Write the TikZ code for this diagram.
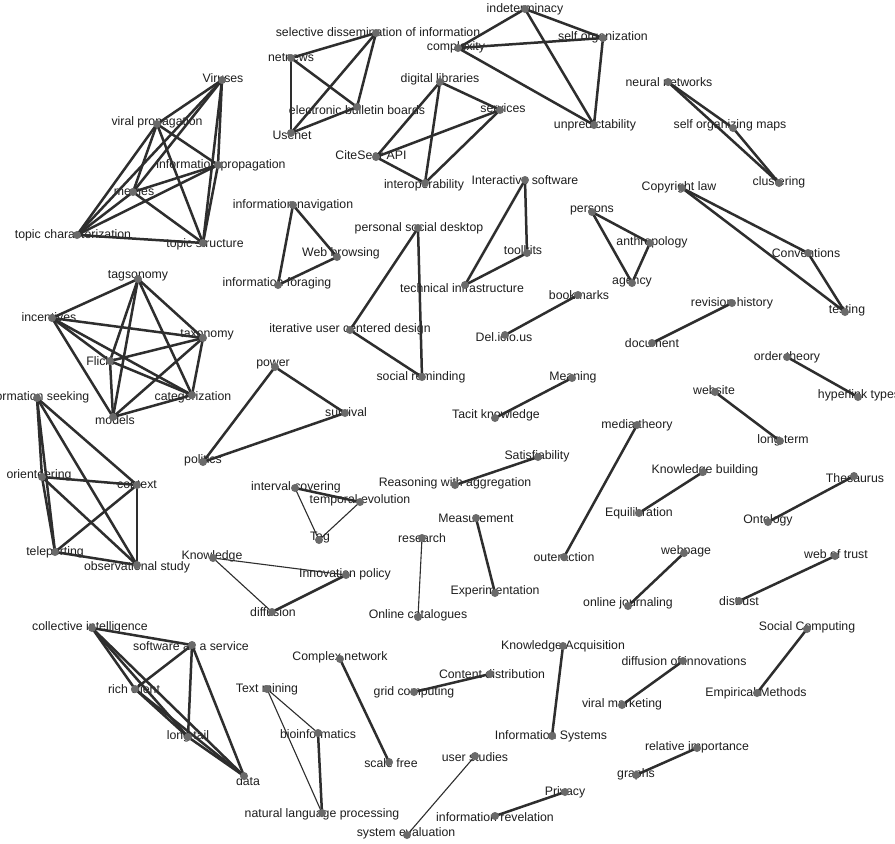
\documentclass[tikz,border=0pt]{standalone}
\usepackage{fontspec}
\setmainfont{Liberation Sans}
\pgfdeclarelayer{bgl}
\pgfdeclarelayer{lab}
\pgfdeclarelayer{edg}
\pgfsetlayers{bgl,lab,edg,main}
\definecolor{edgec}{HTML}{2E2E2E}
\definecolor{dotc}{HTML}{6A6A6A}
\definecolor{txtc}{HTML}{1E1E1E}
\tikzset{
  dot/.style={circle,fill=dotc,draw=none,minimum size=8pt,inner sep=0pt},
  lbl/.style={inner sep=0pt,text=txtc,font=\fontsize{12.3}{14}\selectfont},
  edge/.style={draw=edgec,line width=2.5pt},
  thinedge/.style={draw=edgec,line width=1.1pt}
}
\newcommand{\mkN}[6]{\node[dot] (#1) at (#2,#3) {};
  \begin{pgfonlayer}{lab}\node[lbl] at (#4,#5) {#6};\end{pgfonlayer}}
\newcommand{\mkE}[3][edge]{\begin{pgfonlayer}{edg}\draw[#1] (#2.center) -- (#3.center);\end{pgfonlayer}}
\begin{document}
\begin{tikzpicture}[x=1pt,y=-1pt]
\useasboundingbox (0,0) rectangle (895,844);
\begin{pgfonlayer}{bgl}\fill[white] (0,0) rectangle (895,844);\end{pgfonlayer}
% cluster A
\mkN{vir}{222}{80}{223}{78}{Viruses}
\mkN{vp}{157}{124}{157}{122}{viral propagation}
\mkN{ip}{218}{165}{221}{165}{information propagation}
\mkN{mem}{133}{192}{134}{192}{memes}
\mkN{tc}{77}{235}{73}{235}{topic characterization}
\mkN{ts}{203}{243}{205}{244}{topic structure}
% cluster B
\mkN{sdi}{376}{33}{378}{32}{selective dissemination of information}
\mkN{nn}{291}{58}{291}{58}{netnews}
\mkN{ebb}{357}{107}{357}{110}{electronic bulletin boards}
\mkN{use}{291}{133}{292}{135}{Usenet}
% cluster C
\mkN{dl}{440}{82}{440}{79}{digital libraries}
\mkN{srv}{500}{110}{503}{108}{services}
\mkN{csa}{376}{157}{371}{155}{CiteSeer API}
\mkN{iop}{425}{183}{424}{185}{interoperability}
% cluster D
\mkN{ind}{525}{9}{525}{9}{indeterminacy}
\mkN{cpx}{458}{48}{456}{47}{complexity}
\mkN{so}{603}{38}{603}{37}{self organization}
\mkN{unp}{594}{125}{595}{125}{unpredictability}
% E, F
\mkN{nnw}{668}{82}{669}{82}{neural networks}
\mkN{som}{733}{128}{730}{125}{self organizing maps}
\mkN{clu}{779}{183}{779}{182}{clustering}
\mkN{cop}{682}{188}{679}{187}{Copyright law}
\mkN{conv}{808}{253}{806}{253}{Conventions}
\mkN{tst}{845}{312}{847}{310}{testing}
% G
\mkN{tgs}{138}{279}{138}{276}{tagsonomy}
\mkN{inc}{52}{318}{49}{317}{incentives}
\mkN{tax}{203}{338}{207}{335}{taxonomy}
\mkN{fli}{110}{361}{101}{361}{Flickr}
\mkN{cat}{192}{395}{193}{397}{categorization}
\mkN{mod}{113}{417}{115}{420}{models}
% H
\mkN{is}{37}{398}{36}{397}{information seeking}
\mkN{ori}{42}{477}{39}{475}{orienteering}
\mkN{ctx}{137}{485}{137}{485}{context}
\mkN{tel}{55}{552}{55}{552}{teleporting}
\mkN{obs}{137}{565}{137}{567}{observational study}
% I, J, K, L
\mkN{inav}{293}{205}{293}{205}{information navigation}
\mkN{wb}{337}{257}{341}{253}{Web browsing}
\mkN{ifor}{278}{285}{277}{283}{information foraging}
\mkN{psd}{418}{228}{419}{228}{personal social desktop}
\mkN{iucd}{350}{330}{350}{329}{iterative user centered design}
\mkN{sr}{422}{377}{421}{377}{social reminding}
\mkN{isw}{525}{180}{525}{180}{Interactive software}
\mkN{tk}{527}{253}{523}{250}{toolkits}
\mkN{ti}{465}{285}{462}{288}{technical infrastructure}
\mkN{per}{592}{212}{592}{210}{persons}
\mkN{ant}{650}{243}{652}{242}{anthropology}
\mkN{agn}{632}{283}{632}{282}{agency}
% pairs
\mkN{bm}{578}{295}{579}{295}{bookmarks}
\mkN{del}{505}{335}{504}{337}{Del.icio.us}
\mkN{rh}{732}{303}{732}{303}{revision history}
\mkN{doc}{652}{343}{652}{343}{document}
\mkN{ot}{787}{357}{787}{357}{order theory}
\mkN{hlt}{858}{397}{859}{395}{hyperlink types}
\mkN{pow}{275}{367}{273}{364}{power}
\mkN{pol}{203}{462}{203}{460}{politics}
\mkN{sur}{345}{413}{346}{412}{survival}
\mkN{mean}{572}{378}{573}{377}{Meaning}
\mkN{tac}{495}{418}{496}{415}{Tacit knowledge}
\mkN{web}{715}{392}{714}{390}{website}
\mkN{lt}{780}{441}{783}{440}{long term}
\mkN{mt}{637}{425}{637}{425}{media theory}
\mkN{out}{564}{557}{564}{557}{outeraction}
\mkN{kb}{703}{472}{705}{470}{Knowledge building}
\mkN{eq}{639}{513}{639}{513}{Equilibration}
\mkN{the}{854}{476}{855}{478}{Thesaurus}
\mkN{ont}{768}{522}{768}{520}{Ontology}
\mkN{wp}{684}{553}{686}{551}{webpage}
\mkN{oj}{628}{606}{628}{603}{online journaling}
\mkN{wot}{835}{556}{836}{554}{web of trust}
\mkN{dis}{739}{601}{739}{601}{distrust}
\mkN{sat}{538}{457}{537}{456}{Satisfiability}
\mkN{rwa}{455}{485}{455}{483}{Reasoning with aggregation}
\mkN{ic}{295}{488}{296}{487}{interval covering}
\mkN{te}{360}{502}{360}{500}{temporal evolution}
\mkN{tagn}{319}{540}{320}{538}{Tag}
\mkN{meas}{476}{518}{476}{518}{Measurement}
\mkN{exp}{495}{593}{495}{591}{Experimentation}
\mkN{res}{422}{538}{422}{538}{research}
\mkN{oc}{418}{617}{418}{615}{Online catalogues}
\mkN{kn}{213}{558}{212}{556}{Knowledge}
\mkN{dif}{272}{612}{273}{612}{diffusion}
\mkN{inp}{346}{575}{345}{574}{Innovation policy}
% bottom left
\mkN{ci}{92}{628}{90}{627}{collective intelligence}
\mkN{saas}{192}{645}{191}{646}{software as a service}
\mkN{rc}{135}{689}{134}{689}{rich client}
\mkN{ltl}{188}{737}{188}{736}{long tail}
\mkN{dat}{244}{776}{248}{781}{data}
\mkN{tm}{267}{689}{267}{689}{Text mining}
\mkN{bio}{318}{733}{318}{734}{bioinformatics}
\mkN{nlp}{322}{813}{322}{814}{natural language processing}
\mkN{cn}{340}{659}{340}{657}{Complex network}
\mkN{sf}{389}{762}{391}{763}{scale free}
\mkN{cd}{490}{674}{492}{674}{Content distribution}
\mkN{gc}{414}{692}{414}{692}{grid computing}
\mkN{ka}{563}{646}{563}{646}{Knowledge Acquisition}
\mkN{isy}{552}{736}{551}{736}{Information Systems}
\mkN{us}{475}{756}{475}{757}{user studies}
\mkN{se}{407}{835}{406}{833}{system evaluation}
\mkN{pri}{565}{792}{565}{792}{Privacy}
\mkN{irev}{495}{816}{495}{817}{information revelation}
\mkN{sc}{807}{629}{807}{627}{Social Computing}
\mkN{em}{757}{693}{756}{693}{Empirical Methods}
\mkN{doi}{683}{661}{684}{661}{diffusion of innovations}
\mkN{vm}{622}{705}{622}{704}{viral marketing}
\mkN{ri}{697}{748}{697}{747}{relative importance}
\mkN{gr}{636}{775}{636}{774}{graphs}
% edges
\foreach \a/\b in {vir/vp,vir/ip,vir/mem,vir/tc,vir/ts,vp/ip,vp/mem,vp/tc,vp/ts,ip/mem,ip/tc,ip/ts,mem/tc,mem/ts,tc/ts,
  sdi/nn,sdi/ebb,sdi/use,nn/ebb,nn/use,ebb/use,
  dl/srv,dl/csa,dl/iop,srv/csa,srv/iop,csa/iop,
  ind/cpx,ind/so,ind/unp,cpx/so,cpx/unp,so/unp,
  nnw/som,nnw/clu,som/clu,cop/conv,cop/tst,conv/tst,
  tgs/inc,tgs/tax,tgs/fli,tgs/cat,tgs/mod,inc/tax,inc/fli,inc/cat,inc/mod,tax/fli,tax/cat,tax/mod,fli/cat,fli/mod,cat/mod,
  is/ori,is/ctx,is/tel,is/obs,ori/ctx,ori/tel,ori/obs,ctx/tel,ctx/obs,tel/obs,
  inav/wb,inav/ifor,wb/ifor,psd/iucd,psd/sr,iucd/sr,isw/tk,isw/ti,tk/ti,per/ant,per/agn,ant/agn,
  bm/del,rh/doc,ot/hlt,pow/pol,pow/sur,pol/sur,mean/tac,web/lt,mt/out,kb/eq,the/ont,wp/oj,wot/dis,sat/rwa,
  ic/te,meas/exp,dif/inp,
  ci/saas,ci/rc,ci/ltl,ci/dat,saas/rc,saas/ltl,saas/dat,rc/ltl,rc/dat,ltl/dat,
  bio/nlp,cn/sf,cd/gc,ka/isy,pri/irev,sc/em,doi/vm,ri/gr}
  {\mkE{\a}{\b}}
\foreach \a/\b in {ic/tagn,te/tagn,res/oc,kn/dif,kn/inp,tm/bio,tm/nlp,us/se}
  {\mkE[thinedge]{\a}{\b}}
\end{tikzpicture}
\end{document}
